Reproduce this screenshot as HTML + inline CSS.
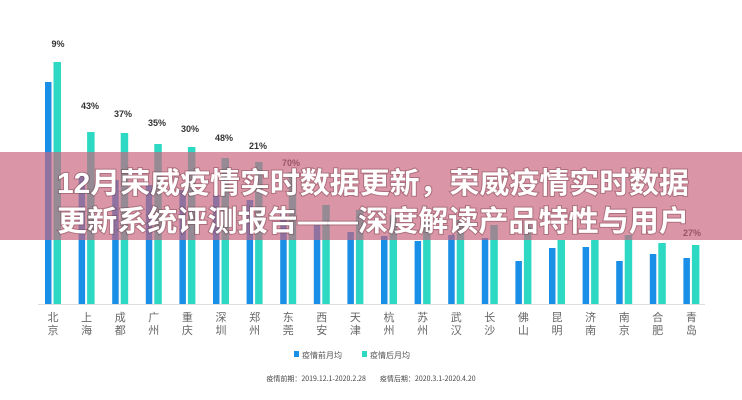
<!DOCTYPE html>
<html><head><meta charset="utf-8"><style>
html,body{margin:0;padding:0;background:#fff;}
svg{display:block;}
</style></head><body>
<svg width="742" height="400" xmlns="http://www.w3.org/2000/svg" font-family="Liberation Sans, Noto Sans CJK SC, sans-serif">
<rect width="742" height="400" fill="#fff"/>
<line x1="38" y1="304.5" x2="705" y2="304.5" stroke="#ddd" stroke-width="1"/>
<g id="bars"></g>
<g font-size="9" font-weight="bold" fill="#333" text-anchor="middle">
<text x="58" y="47">9%</text>
<text x="90" y="109">43%</text>
<text x="123" y="117">37%</text>
<text x="157" y="126">35%</text>
<text x="190" y="132">30%</text>
<text x="224" y="141">48%</text>
<text x="258" y="149">21%</text>
<text x="291" y="166">70%</text>
<text x="692" y="236">27%</text>
</g>
<g font-size="11" fill="#666" text-anchor="middle" font-family="Noto Sans CJK SC, sans-serif" id="labels"></g>
<rect x="294" y="351" width="5" height="6" fill="#1a8fe8"/>
<text x="302" y="358" font-size="8" fill="#555" font-family="Noto Sans CJK SC, sans-serif">疫情前月均</text>
<rect x="362" y="351" width="5" height="6" fill="#2ed9c3"/>
<text x="370" y="358" font-size="8" fill="#555" font-family="Noto Sans CJK SC, sans-serif">疫情后月均</text>
<text x="371" y="381" font-size="7" fill="#444" text-anchor="middle" font-family="Noto Sans CJK SC, sans-serif">疫情前期：2019.12.1-2020.2.28　　疫情后期：2020.3.1-2020.4.20</text>
<rect x="0" y="152" width="742" height="88" fill="rgb(200,100,125)" fill-opacity="0.68"/>
<g font-size="29" font-weight="bold" fill="#fff" text-anchor="middle" font-family="Liberation Sans, Noto Sans CJK SC, sans-serif" style="paint-order:stroke" stroke="rgba(90,40,50,0.35)" stroke-width="2">
<text x="373" y="193" textLength="632" lengthAdjust="spacingAndGlyphs">12月荣威疫情实时数据更新，荣威疫情实时数据</text>
<text x="373" y="231" textLength="632" lengthAdjust="spacingAndGlyphs">更新系统评测报告——深度解读产品特性与用户</text>
</g>
</svg>
<script>
var blue=[82,175,180,185,190,195,200,212,225,232,236,241,235,238,261,248,247,261,254,258];
var teal=[62,132,133,144,147,158,162,172,205,210,215,220,220,225,225,240,240,235,243,245];
var names=["北京","上海","成都","广州","重庆","深圳","郑州","东莞","西安","天津","杭州","苏州","武汉","长沙","佛山","昆明","济南","南京","合肥","青岛"];
var ns="http://www.w3.org/2000/svg",g=document.getElementById("bars"),L=document.getElementById("labels");
for(var i=0;i<20;i++){var c=53+i*33.6;
var r=document.createElementNS(ns,"rect");r.setAttribute("x",c-8);r.setAttribute("y",blue[i]);r.setAttribute("width",6.5);r.setAttribute("height",304-blue[i]);r.setAttribute("fill","#1a8fe8");g.appendChild(r);
r=document.createElementNS(ns,"rect");r.setAttribute("x",c+0.5);r.setAttribute("y",teal[i]);r.setAttribute("width",7.5);r.setAttribute("height",304-teal[i]);r.setAttribute("fill","#2ed9c3");g.appendChild(r);
for(var k=0;k<2;k++){var t=document.createElementNS(ns,"text");t.setAttribute("x",c);t.setAttribute("y",321+k*13);t.textContent=names[i][k];L.appendChild(t);}}
</script>
</body></html>
